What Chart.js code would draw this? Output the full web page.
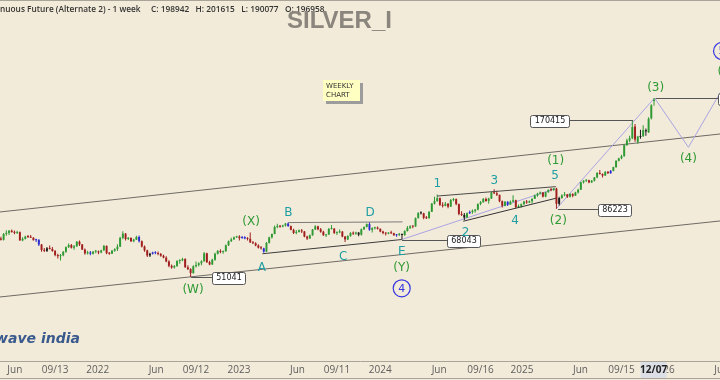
<!DOCTYPE html>
<html lang="en">
<head>
<meta charset="UTF-8" />
<title>SILVER_I weekly</title>
<script src="https://cdn.jsdelivr.net/npm/chart.js"></script>
<style>
    html, body { margin: 0; padding: 0; background: #f3ebd9; }
    #wrap { width: 720px; height: 380px; }
</style>
</head>
<body>
<div id="wrap"><canvas id="chart" width="720" height="380"></canvas></div>
<script>
// weekly candles, index 0 = week of 2021-04-26
const startDate = '2021-04-26';
const opens = [
    68600, 67900, 71000, 71600, 72800, 72000, 71600, 72000, 67600, 68400,
    69600, 69400, 69000, 67700, 67900, 65500, 62800, 62400, 63600, 63300,
    62300, 60400, 59900, 60300, 61900, 64200, 65200, 63900, 64600, 66900,
    65500, 63000, 61200, 61600, 61000, 62000, 62100, 61600, 62600, 64800,
    61300, 61000, 62400, 63200, 64400, 68900, 71200, 68300, 68900, 67200,
    68000, 69400, 67200, 64500, 62600, 60200, 61000, 61600, 61300, 60900,
    60100, 59200, 57500, 55600, 54900, 55500, 57700, 58000, 58600, 55000,
    54200, 52600, 55400, 56000, 56700, 57600, 61200, 57200, 56200, 58300,
    61000, 62300, 61800, 62200, 65100, 67200, 68100, 69200, 69600, 68800,
    69300, 68600, 68400, 66600, 66100, 65000, 63900, 63600, 62000, 66300,
    69200, 71000, 74900, 75500, 75100, 75800, 76900, 75400, 73300, 71600,
    72100, 73000, 72400, 69600, 68600, 70300, 73500, 75300, 73600, 72200,
    70300, 70700, 73800, 74000, 71600, 71900, 72300, 69600, 68100, 69900,
    71600, 71200, 71800, 70600, 73600, 74900, 76600, 73300, 74200, 74600,
    73900, 72300, 71500, 71200, 71600, 71400, 70300, 70600, 70800, 70400,
    72600, 74400, 75300, 75200, 80200, 83300, 83200, 80400, 80100, 84200,
    89600, 91400, 93500, 88800, 88100, 89500, 87600, 92100, 92800, 89300,
    82800, 82200, 80500, 83200, 84000, 84800, 85600, 89400, 90600, 92900,
    91500, 93200, 97800, 97000, 95900, 91300, 88200, 90900, 89000, 91000,
    92000, 87200, 87900, 89200, 91000, 90400, 91300, 93000, 95400, 96700,
    97600, 94600, 97800, 99600, 99400, 100600, 89500, 93600, 95500, 96200,
    94500, 96500, 95200, 97600, 99700, 105600, 106900, 107200, 105500, 106900,
    109600, 113500, 112600, 111200, 114500, 113200, 115200, 118600, 124500, 126900,
    129000, 140500, 145500, 148000, 162000, 144000, 149500, 150500, 157500, 155000,
    172500, 196958
];
const highs = [
    69500, 71500, 73000, 73200, 73500, 72900, 72800, 72400, 69200, 70000,
    70400, 70500, 69200, 68500, 68200, 65800, 63800, 64200, 65000, 64300,
    62800, 61000, 60900, 62300, 64500, 66000, 65800, 65300, 67300, 67500,
    65800, 63500, 62400, 62300, 62300, 62800, 62500, 62900, 65200, 65000,
    61800, 62800, 63600, 65600, 69500, 72500, 71500, 69400, 69200, 68400,
    70000, 70200, 67500, 65000, 62900, 61500, 62000, 62200, 62100, 61400,
    60500, 59800, 58000, 56200, 56000, 58000, 58500, 59200, 58900, 55800,
    54600, 55800, 57500, 57200, 58000, 61800, 61500, 57800, 58700, 61500,
    62800, 63200, 62500, 65500, 67600, 69000, 69600, 70000, 70300, 69900,
    69800, 69200, 71800, 67300, 66600, 65600, 64800, 63900, 66800, 69500,
    71300, 75800, 76800, 76000, 76200, 77200, 77500, 75800, 73900, 73200,
    73500, 73800, 72600, 70000, 70700, 73800, 75900, 75700, 74400, 72800,
    71000, 74300, 76000, 74200, 72400, 73500, 72600, 69900, 70300, 72000,
    72300, 72200, 72000, 74000, 75200, 77000, 77900, 74800, 75000, 75200,
    74000, 72800, 71900, 72000, 72800, 71700, 71000, 71500, 71200, 73000,
    75500, 75900, 75800, 80600, 84000, 84600, 83500, 81500, 84600, 90000,
    94500, 96200, 94000, 90500, 90800, 90000, 92800, 93500, 93200, 89800,
    84500, 83400, 83800, 85000, 85600, 86000, 89800, 91500, 93500, 94000,
    93800, 97900, 100000, 99000, 96000, 91800, 91500, 91200, 91800, 95500,
    92300, 89000, 89800, 91600, 92200, 91800, 93400, 96200, 97400, 98400,
    98000, 98200, 99900, 101000, 101000, 101200, 94500, 96400, 98000, 96500,
    97200, 97000, 98200, 100400, 106000, 107300, 108000, 107600, 107400, 110000,
    114000, 116000, 113000, 115000, 115000, 116000, 119000, 125000, 127500, 130500,
    141000, 147500, 151000, 170415, 165000, 151000, 158000, 163500, 159500, 174000,
    192000, 201615
];
const lows = [
    67500, 67600, 70000, 70500, 71800, 70800, 71000, 67400, 67200, 68000,
    68900, 68800, 67500, 66800, 64800, 62000, 61800, 61800, 63000, 62000,
    59800, 58800, 57900, 59800, 61500, 63800, 63500, 62900, 64300, 64800,
    62800, 60500, 60600, 60300, 60700, 61200, 60800, 61300, 62400, 60800,
    60500, 60900, 61900, 62300, 64200, 68200, 67600, 67800, 66800, 66600,
    67800, 66500, 64000, 62000, 59500, 59500, 60600, 60800, 60300, 59600,
    58900, 57200, 55000, 54400, 54500, 55200, 56500, 57600, 54800, 53900,
    51041, 52300, 54900, 55300, 55800, 57400, 56800, 55800, 56000, 57800,
    60600, 61200, 61000, 62000, 64700, 66800, 67900, 68800, 67500, 68400,
    68200, 67600, 66200, 65800, 64600, 63500, 63000, 61500, 61800, 66000,
    68600, 70800, 74200, 74500, 74800, 75200, 75000, 73000, 71000, 70900,
    71800, 71600, 69200, 67800, 68300, 70000, 73200, 73000, 71700, 70000,
    69400, 70400, 73500, 71000, 70400, 71400, 69300, 66800, 67800, 69500,
    70500, 70600, 69800, 70200, 73200, 74600, 72800, 71800, 73500, 73500,
    71900, 70800, 70200, 70800, 71000, 70000, 69500, 69900, 68043, 70000,
    72300, 73800, 74200, 75000, 80000, 82500, 79500, 79700, 80000, 84000,
    89000, 91000, 88000, 87000, 87800, 86500, 87300, 91200, 88500, 82000,
    81500, 79100, 80200, 82800, 83000, 83500, 85200, 88500, 90200, 91000,
    89500, 92800, 96500, 95000, 90500, 87000, 87800, 88000, 88800, 90500,
    86500, 86800, 86900, 88800, 89500, 90000, 89800, 92800, 94500, 96200,
    94000, 94200, 97400, 98500, 99000, 86223, 88400, 93000, 94800, 93500,
    94000, 94200, 95000, 96800, 99500, 104500, 105800, 104800, 105000, 106200,
    108800, 112000, 109500, 110900, 112500, 112800, 115000, 118000, 123800, 126000,
    128500, 139500, 143500, 147000, 144000, 142000, 147500, 149500, 151000, 154000,
    171000, 190077
];
const closes = [
    67900, 71000, 71600, 72800, 72000, 71600, 72000, 67600, 68400, 69600,
    69400, 69000, 67700, 67900, 65500, 62800, 62400, 63600, 63300, 62300,
    60400, 59900, 60300, 61900, 64200, 65200, 63900, 64600, 66900, 65500,
    63000, 61200, 61600, 61000, 62000, 62100, 61600, 62600, 64800, 61300,
    61000, 62400, 63200, 64400, 68900, 71200, 68300, 68900, 67200, 68000,
    69400, 67200, 64500, 62600, 60200, 61000, 61600, 61300, 60900, 60100,
    59200, 57500, 55600, 54900, 55500, 57700, 58000, 58600, 55000, 54200,
    52600, 55400, 56000, 56700, 57600, 61200, 57200, 56200, 58300, 61000,
    62300, 61800, 62200, 65100, 67200, 68100, 69200, 69600, 68800, 69300,
    68600, 68400, 66600, 66100, 65000, 63900, 63600, 62000, 66300, 69200,
    71000, 74900, 75500, 75100, 75800, 76900, 75400, 73300, 71600, 72100,
    73000, 72400, 69600, 68600, 70300, 73500, 75300, 73600, 72200, 70300,
    70700, 73800, 74000, 71600, 71900, 72300, 69600, 68100, 69900, 71600,
    71200, 71800, 70600, 73600, 74900, 76600, 73300, 74200, 74600, 73900,
    72300, 71500, 71200, 71600, 71400, 70300, 70600, 70800, 70400, 72600,
    74400, 75300, 75200, 80200, 83300, 83200, 80400, 80100, 84200, 89600,
    91400, 93500, 88800, 88100, 89500, 87600, 92100, 92800, 89300, 82800,
    82200, 80500, 83200, 84000, 84800, 85600, 89400, 90600, 92900, 91500,
    93200, 97600, 97000, 95900, 91300, 88200, 90900, 89000, 91000, 92000,
    87200, 87900, 89200, 91000, 90400, 91300, 93000, 95400, 96700, 97600,
    94600, 97800, 99600, 99400, 100700, 89500, 93600, 95500, 96200, 94500,
    96500, 95200, 97600, 99700, 105600, 106900, 107200, 105500, 106900, 109600,
    113500, 112600, 111200, 114500, 113200, 115200, 118600, 124500, 126900, 129000,
    140500, 145500, 148000, 161500, 146500, 150000, 150500, 157500, 156000, 172000,
    190500, 198942
];
// candles the chart paints blue or black instead of green / red
const blueBars = [13, 14, 33, 51, 56, 57, 89, 90, 97, 106, 136, 146, 173, 187, 225];
const blackBars = [17, 55, 132, 148, 155, 171, 206, 236, 238];

// time axis
const tickDates = ['2021-06-01', '2021-09-13', '2022-01-01', '2022-06-01', '2022-09-12', '2023-01-01',
    '2023-06-01', '2023-09-11', '2024-01-01', '2024-06-01', '2024-09-16', '2025-01-01',
    '2025-06-01', '2025-09-15', '2026-01-01', '2026-06-01'];
const tickLabels = ['Jun', '09/13', '2022', 'Jun', '09/12', '2023', 'Jun', '09/11', '2024', 'Jun',
    '09/16', '2025', 'Jun', '09/15', '2026', 'Jun'];
const cursorDate = '2025-12-07';
const cursorLabel = '12/07';

// elliott wave labels (week index, price)
const waveText = ['(W)', '(X)', '(Y)', 'A', 'B', 'C', 'D', 'E', '1', '2', '3', '4', '5', '(1)', '(2)', '(3)', '(4)', '(5)'];
const waveWeek = [70.9, 92.3, 147.9, 96.3, 106.1, 126.3, 136.2, 147.9, 161.0, 171.5, 182.1, 189.7, 204.5, 204.7, 205.7, 241.6, 253.7, 267.6];
const wavePrice = [46200, 77800, 54600, 54700, 83600, 59400, 83600, 62000, 104100, 71700, 106700, 78450, 110800, 124300, 78450, 217200, 126300, 246200];
const circleText = ['4', '5'];
const circleWeek = [147.9, 266.1];
const circlePrice = [46800, 289200];

// price tags: value, leader from week, leader to week
const tagValue = [51041, 68043, 86223, 170415, 201615];
const tagFrom = [70.2, 148.0, 205.6, 233.3, 241.6];
const tagTo = [77.9, 164.6, 220.3, 209.6, 264.6];

// drawn lines (week, price)
const channelUpper = [[-0.33, 84060], [265.35, 152950]];
const channelLower = [[-0.33, 43780], [265.35, 78450]];
const triangleAE = [[96.5, 61000], [147.9, 68043]];
const triangleBD = [[106.0, 77500], [148.2, 77900]];
const diagonalTop = [[161.0, 95000], [204.8, 102100]];
const diagonalBottom = [[170.6, 78300], [204.8, 93400]];
const pathE5 = [[147.9, 68043], [204.5, 100500]];
const pathProjection = [[205.0, 86223], [241.2, 201615], [253.7, 138100], [269.0, 238700]];

const X_MIN = -0.33, X_MAX = 265.35;
const Y_MIN = 26786, Y_MAX = 427700;

const weekOf = d => (Date.parse(d) - Date.parse(startDate)) / 604800000;
const tickWeeks = tickDates.map(weekOf);

function candleColor(i) {
    if (blueBars.includes(i)) return '#2b2bd2';
    if (blackBars.includes(i)) return '#1a1a1a';
    return closes[i] >= opens[i] ? '#2f9a35' : '#a11e1e';
}

const toXY = pts => pts.map(p => ({ x: p[0], y: p[1] }));
const lineSet = (pts, color, order) => ({
    type: 'line', data: toXY(pts), borderColor: color, borderWidth: 1,
    pointRadius: 0, fill: false, tension: 0, order: order
});

const overlay = {
    id: 'overlay',
    beforeDraw(chart) {
        const c = chart.ctx;
        c.save();
        c.fillStyle = '#f3ebd9';
        c.fillRect(0, 0, chart.width, chart.height);
        c.font = 'italic bold 14px "DejaVu Sans"';
        c.fillStyle = '#3a5a8e';
        c.fillText('wave india', -5, 343);
        c.restore();
    },
    afterDatasetsDraw(chart) {
        const c = chart.ctx, xs = chart.scales.x, ys = chart.scales.y;
        c.save();
        // price tags
        c.font = '8px "DejaVu Sans"';
        c.textBaseline = 'middle';
        tagValue.forEach((v, k) => {
            const y = Math.round(ys.getPixelForValue(v)) + 0.5;
            const x1 = xs.getPixelForValue(tagFrom[k]);
            const x2 = xs.getPixelForValue(tagTo[k]);
            c.strokeStyle = '#555';
            c.lineWidth = 1;
            c.beginPath(); c.moveTo(x1, y); c.lineTo(x2, y); c.stroke();
            const t = String(v);
            const w = Math.round(c.measureText(t).width) + 8, h = 12;
            const bx = Math.round(x2 > x1 ? x2 : x2 - w) + 0.5;
            const by = Math.round(y - h / 2) + 0.5;
            c.beginPath();
            c.roundRect(bx, by, w, h, 2);
            c.fillStyle = '#ffffff';
            c.fill();
            c.stroke();
            c.fillStyle = '#222';
            c.textAlign = 'center';
            c.fillText(t, bx + w / 2, y + 0.5);
        });
        // wave labels
        c.font = '12px "DejaVu Sans"';
        c.textAlign = 'center';
        waveText.forEach((t, k) => {
            c.fillStyle = t.startsWith('(') ? '#2f9a35' : '#1f9ea3';
            c.fillText(t, xs.getPixelForValue(waveWeek[k]), ys.getPixelForValue(wavePrice[k]));
        });
        circleText.forEach((t, k) => {
            const x = xs.getPixelForValue(circleWeek[k]), y = ys.getPixelForValue(circlePrice[k]);
            c.strokeStyle = '#3636e2';
            c.lineWidth = 1.2;
            c.beginPath(); c.arc(x, y, 8.5, 0, Math.PI * 2); c.stroke();
            c.fillStyle = '#3636e2';
            c.font = '11px "DejaVu Sans"';
            c.fillText(t, x, y + 0.5);
        });
        c.restore();
    },
    afterDraw(chart) {
        const c = chart.ctx;
        const last = closes.length - 1;
        c.save();
        // frame lines
        c.strokeStyle = '#aaa398';
        c.lineWidth = 1;
        c.beginPath();
        c.moveTo(0, 0.5); c.lineTo(720, 0.5);
        c.moveTo(0, 378.5); c.lineTo(720, 378.5);
        c.stroke();
        // header
        c.textBaseline = 'middle';
        c.textAlign = 'left';
        c.fillStyle = '#333';
        c.font = '600 8.3px "Open Sans"';
        c.fillText('nuous Future (Alternate 2) - 1 week', 0, 10);
        c.fillText('C: ' + closes[last] + '   H: ' + highs[last] + '   L: ' + lows[last] + '   O: ' + opens[last], 151, 10);
        c.font = 'bold 24px "Liberation Sans"';
        c.fillStyle = '#8a857d';
        c.fillText('SILVER_I', 287, 21);
        // note
        c.fillStyle = '#9c9c9c';
        c.fillRect(326, 83, 37, 21);
        c.fillStyle = '#ffffc2';
        c.fillRect(323, 80, 37, 21);
        c.fillStyle = '#333';
        c.font = '7px "DejaVu Sans"';
        c.fillText('WEEKLY', 326, 86);
        c.fillText('CHART', 326, 95);
        // cursor date on time axis
        const cx = chart.scales.x.getPixelForValue(weekOf(cursorDate));
        c.fillStyle = '#dcdfe5';
        c.fillRect(cx - 13, 362, 26, 16);
        c.fillStyle = '#222';
        c.textAlign = 'center';
        c.font = 'bold 10px "Open Sans"';
        c.fillText(cursorLabel, cx, 370);
        c.restore();
    }
};

new Chart(document.getElementById('chart'), {
    type: 'bar',
    data: {
        datasets: [
            lineSet(channelUpper, '#6e6a64', 5),
            lineSet(channelLower, '#6e6a64', 5),
            lineSet(pathE5, '#aaa4e4', 4),
            lineSet(pathProjection, '#aaa4e4', 4),
            {
                type: 'bar', grouped: false, maxBarThickness: 1, order: 3,
                data: lows.map((l, i) => ({ x: i, y: [l, highs[i]] })),
                backgroundColor: ctx => candleColor(ctx.dataIndex)
            },
            {
                type: 'bar', grouped: false, maxBarThickness: 2, minBarLength: 1, order: 2,
                data: opens.map((o, i) => ({ x: i, y: [o, closes[i]] })),
                backgroundColor: ctx => candleColor(ctx.dataIndex)
            },
            lineSet(triangleAE, '#3c3c3c', 1),
            lineSet(triangleBD, '#7a7a7a', 1),
            lineSet(diagonalTop, '#4a4a4a', 1),
            lineSet(diagonalBottom, '#333333', 1)
        ]
    },
    options: {
        responsive: false,
        animation: false,
        devicePixelRatio: 1,
        layout: { padding: 0, autoPadding: false },
        plugins: { legend: { display: false }, tooltip: { enabled: false } },
        scales: {
            x: {
                type: 'linear', min: X_MIN, max: X_MAX, offset: false,
                grid: { display: false, drawTicks: false, offset: false },
                border: { display: true, color: '#aaa398' },
                afterBuildTicks: s => { s.ticks = tickWeeks.map(v => ({ value: v })); },
                afterFit: s => { s.height = 19; s.paddingLeft = 0; s.paddingRight = 0; },
                ticks: {
                    autoSkip: false, maxRotation: 0, padding: 3, color: '#5e5e5e',
                    font: { family: 'Open Sans', size: 10 },
                    callback: (v, i) => tickLabels[i]
                }
            },
            y: { type: 'logarithmic', display: false, min: Y_MIN, max: Y_MAX }
        }
    },
    plugins: [overlay]
});
</script>
</body>
</html>
